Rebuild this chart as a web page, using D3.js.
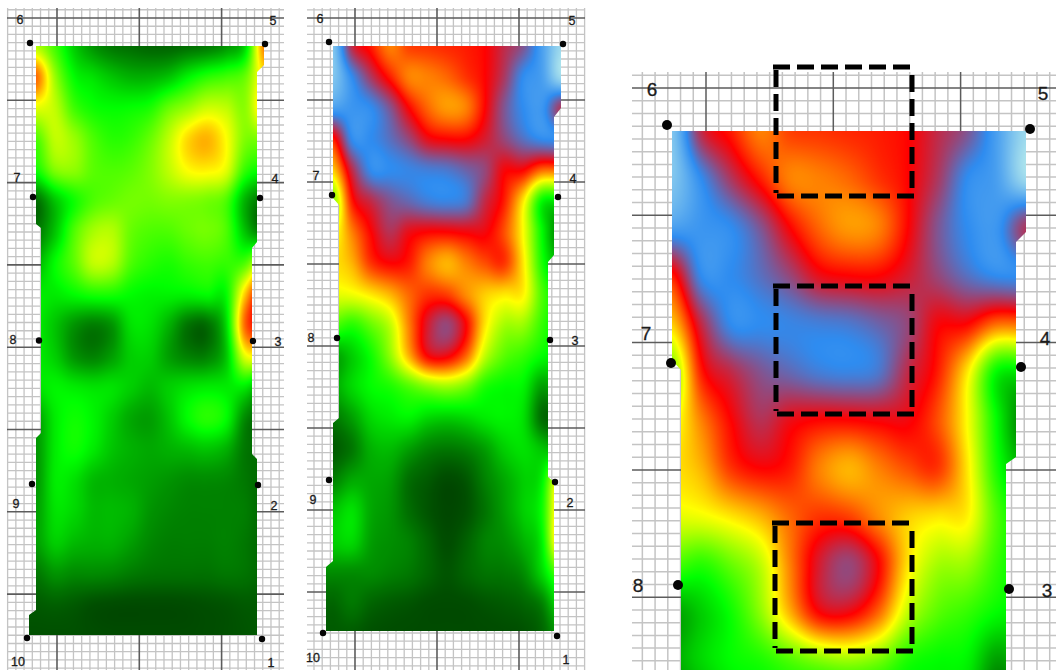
<!DOCTYPE html>
<html><head><meta charset="utf-8">
<script src="https://cdn.jsdelivr.net/npm/d3@7/dist/d3.min.js"></script>
<style>html,body{margin:0;padding:0;background:#fff}svg{display:block}text{font-family:"Liberation Sans",Arial,sans-serif;fill:#1c1c1c;stroke:#1c1c1c;stroke-width:.3px}</style>
</head><body><svg id="c" width="1056" height="670"></svg>
<script>
// Sensor point labels, in reading order left/right from the top
const sensorLabels=["6","5","7","4","8","3","9","2","10","1"];
// Heat levels: 0 dark green, 1 green, 2 yellow, 3 red, 4 blue, 5 pale cyan
const colorLevels=[0,1,2,3,4,5];
const colorStops=["#003d00","#00ff00","#ffff00","#ff0000","#2e8cf0","#b8ecec"];
// Sampling columns and rows on the first panel's sheet
const sampleCols=[0,1,2,3,4,5,6,7,8,9,10,11,12];
const sampleRows=[0,1,2,3,4,5,6,7,8,9,10,11,12,13,14,15,16,17,18,19];
const heatLeft=[
[1.7,1.25,.75,.45,.3,.25,.2,.2,.25,.3,.45,.8,2.5],
[2.6,1.6,1,.85,.7,.6,.6,.7,.95,1.15,1.25,1.4,2.1],
[1.9,1.75,1.25,1.05,1,1.02,1.1,1.4,1.6,1.8,1.75,1.55,2.2],
[1.3,1.75,1.6,1.3,1.15,1.2,1.4,1.75,2.15,2.3,2,1.5,1.5],
[1.05,1.5,1.55,1.35,1.3,1.35,1.5,1.75,2,2.05,1.9,1.2,1],
[.25,.7,1.05,1.3,1.4,1.45,1.45,1.5,1.5,1.45,1.3,.6,.25],
[.3,.7,1.3,1.65,1.7,1.4,1.3,1.3,1.4,1.45,1.3,.7,.3],
[.6,1,1.35,1.75,1.7,1.3,1.15,1.1,1.2,1.25,1.2,1.3,2],
[.9,.9,1,1.1,1.1,1,.95,.95,.95,1,1,2.2,3.2],
[.9,.7,.45,.33,.45,.85,.85,.6,.28,.25,.8,2.6,3],
[.9,.75,.45,.35,.5,.75,.75,.5,.35,.35,.7,1.9,2],
[.85,.95,.9,.85,.85,.75,.65,.75,.85,.9,.9,.9,.5],
[.5,.9,1.05,.95,.75,.55,.5,.7,1,1.15,1,.4,.2],
[.45,.9,1.05,.9,.7,.6,.55,.6,.65,.7,.6,.3,.25],
[.45,.9,.85,.65,.6,.55,.5,.45,.4,.4,.38,.3,.2],
[.5,.85,.8,.65,.65,.6,.45,.38,.35,.35,.35,.33,.2],
[.5,.75,.65,.6,.6,.5,.38,.33,.33,.33,.35,.3,.2],
[.3,.45,.4,.4,.38,.32,.28,.27,.27,.27,.3,.28,.2],
[.15,.18,.15,.1,.08,.07,.07,.07,.08,.1,.12,.15,.15],
[.1,.1,.1,.08,.07,.07,.07,.07,.07,.08,.1,.12,.15]];
const heatRight=[
[4.6,3.3,2.9,2.5,2.75,2.8,2.85,2.9,3,3.3,3.6,4.2,4.8],
[4.6,4,3.4,2.9,2.5,2.5,2.6,2.8,3,3.4,4,4.2,4.8],
[4.2,4.1,4,3.6,3,2.6,2.4,2.5,3,3.6,4,4.1,3.4],
[2.9,4,4,3.8,3.5,3.1,3,3,3.2,3.5,3.8,4,4],
[2.2,3.3,4,4,3.95,3.9,3.85,3.7,3.5,3.05,3,2.6,2.6],
[1.5,2.9,3.3,3.6,3.75,3.9,3.95,3.85,3.3,2.9,2.1,1,.9],
[1.9,2.5,3,3.35,3.1,3,3,3.05,3.05,2.7,2,1,.3],
[2.1,2.3,2.8,3,2.9,2.5,2.3,2.5,2.7,2.8,2.1,1.1,.6],
[1.9,1.95,2.1,2.3,2.6,2.8,2.75,2.45,2.2,2.1,2.05,1.3,.9],
[1.3,1.15,1.4,1.75,2.5,3.2,3.5,3,2.1,1.65,1.6,1.2,.9],
[.5,.75,1.05,1.55,2.3,3,3.05,2.6,1.75,1.35,1.2,1,.9],
[.55,.8,1,1.1,1.3,1.5,1.6,1.45,1.1,1,.95,.5,.7],
[.3,.5,.8,.9,.95,.8,.75,.8,.9,.95,.85,.25,.25],
[.15,.3,.6,.65,.5,.35,.3,.35,.5,.75,.85,.7,.6],
[.35,.55,.55,.5,.25,.15,.07,.13,.35,.55,.75,.95,2.2],
[.7,.85,.55,.45,.25,.12,.05,.1,.28,.5,.75,1.05,2.4],
[.75,.8,.5,.42,.35,.2,.08,.18,.35,.42,.6,.95,2.4],
[.4,.4,.4,.35,.3,.2,.12,.2,.28,.3,.4,.8,1.4],
[.2,.3,.2,.15,.12,.08,.07,.08,.12,.15,.2,.35,.9],
[.15,.15,.1,.08,.07,.07,.07,.07,.07,.08,.1,.2,.5]];

// ---- layout ----
const panels=[
 {heat:heatLeft,sheet:[7,8,284,670],majorX:57,majorY:18,step:82.3,
  x:[36,264],y:[46,635],fs:12.5,r:3.2,
  outline:[[36,46],[264,46],[264,65],[257,72],[257,242],[252,248],[252,454],[257,459],[257,635],[29,635],[29,615],[36,610],[36,438],[41,433],[41,228],[36,224]],
  dots:[[30,43],[265,44],[33,197],[260,198],[39,340.5],[253,341],[32,484],[258,485],[27,638],[262,639]],
  labels:[[20,20],[273,21],[17,178],[275,179],[13,340],[278,342],[16,504],[274,506],[18,662],[271,663]]},
 {heat:heatRight,sheet:[307,8,585,670],majorX:355,majorY:18,step:82,
  x:[333,561],y:[46,635],fs:12.5,r:3.2,
  outline:[[333,46],[561,46],[561,108],[554,117],[554,255],[548,262],[548,477],[554,482],[554,631],[326,631],[326,567],[333,561],[333,423],[339,418],[339,205],[333,198]],
  dots:[[329,42],[563,44],[332,195],[558,197],[337,338],[550,340],[329,480],[555,482],[323,633],[557,636]],
  labels:[[320,19],[572,21],[316,176],[573,179],[311,338],[575,341],[313,500],[570,503],[313,658],[566,660]]},
 {heat:heatRight,sheet:[632,72,1056,670],majorX:706,majorY:88,step:127.3,
  x:[672,1026],y:[131,1045.7],fs:19,r:5,
  outline:[[672,131],[1026,131],[1026,232],[1016,242],[1016,457],[1006,464],[1006,680],[681,680],[681,370],[672,360]],
  dots:[[667,125],[1030,129],[671,363],[1021,367],[678,585],[1009,589]],
  labels:[[652,89],[1043,93],[646,333],[1045,338],[638,585],[1047,590]],
  boxes:[[776,67,912,196],[776,286,912,414],[775,523,912,651]]}
];

const svg=d3.select("#c");
const defs=svg.append("defs");
defs.append("filter").attr("id","soft").attr("x","-1%").attr("y","-1%").attr("width","102%").attr("height","102%")
  .append("feGaussianBlur").attr("stdDeviation",0.45);

const color=d3.scaleLinear().domain(colorLevels).range(colorStops).clamp(true);
const lut=d3.range(1001).map(i=>{const c=d3.rgb(color(i/200));return [c.r,c.g,c.b];});

function cr(a,b,c,d,t){return b+0.5*t*(c-a+t*(2*a-5*b+4*c-d+t*(3*(b-c)+d-a)));}
function sample(m,u,v){
  const nc=sampleCols.length,nr=sampleRows.length;
  u=Math.max(0,Math.min(nc-1,u));v=Math.max(0,Math.min(nr-1,v));
  const i=Math.min(nc-2,Math.floor(u)),j=Math.min(nr-2,Math.floor(v)),tu=u-i,tv=v-j;
  const cl=(a,lo,hi)=>Math.max(lo,Math.min(hi,a));
  const row=r=>{const R=m[cl(r,0,nr-1)];return cr(R[cl(i-1,0,nc-1)],R[i],R[i+1],R[cl(i+2,0,nc-1)],tu);};
  return cr(row(j-1),row(j),row(j+1),row(j+2),tv);
}

panels.forEach((p,idx)=>{
  const g=svg.append("g");
  const [sx0,sy0,sx1,sy1]=p.sheet;
  const minor=p.step/10;
  const gx=d3.scaleLinear().domain([0,1]).range([p.majorX,p.majorX+minor]);
  const gy=d3.scaleLinear().domain([0,1]).range([p.majorY,p.majorY+minor]);
  const kx=d3.range(Math.ceil(gx.invert(sx0)),Math.floor(gx.invert(sx1))+1);
  const ky=d3.range(Math.ceil(gy.invert(sy0)),Math.floor(gy.invert(sy1))+1);
  const paper=g.append("g").attr("filter","url(#soft)");
  const isMajor=k=>((k%10)+10)%10===0;
  const draw=(sel)=>sel.attr("stroke",d=>isMajor(d)?"#5c5c5c":"#c4c4c4")
      .attr("stroke-width",d=>isMajor(d)?(idx==2?1.5:1.6):(idx==2?1.5:1.3));
  paper.selectAll(".v").data(kx).join("line").attr("class","v")
    .attr("x1",d=>gx(d)).attr("x2",d=>gx(d)).attr("y1",sy0).attr("y2",sy1).call(draw);
  paper.selectAll(".h").data(ky).join("line").attr("class","h")
    .attr("x1",sx0).attr("x2",sx1).attr("y1",d=>gy(d)).attr("y2",d=>gy(d)).call(draw);
  // raise majors over the other direction's minor lines
  paper.selectAll("line").filter(d=>isMajor(d)).raise();

  // heat surface
  const xs=d3.scaleLinear().domain([0,sampleCols.length-1]).range(p.x);
  const ys=d3.scaleLinear().domain([0,sampleRows.length-1]).range(p.y);
  const ox=d3.extent(p.outline,d=>d[0]),oy=d3.extent(p.outline,d=>d[1]);
  const w=ox[1]-ox[0],h=Math.min(oy[1],670)-oy[0];
  const cv=document.createElement("canvas");cv.width=w;cv.height=h;
  const ctx=cv.getContext("2d"),im=ctx.createImageData(w,h);
  for(let y=0;y<h;y++)for(let x=0;x<w;x++){
    const val=sample(p.heat,xs.invert(ox[0]+x+.5),ys.invert(oy[0]+y+.5));
    const c=lut[Math.max(0,Math.min(1000,Math.round(val*200)))];
    const o=(y*w+x)*4;im.data[o]=c[0];im.data[o+1]=c[1];im.data[o+2]=c[2];im.data[o+3]=255;
  }
  ctx.putImageData(im,0,0);
  const cid="clip"+idx;
  defs.append("clipPath").attr("id",cid).append("polygon").attr("points",p.outline.map(d=>d.join(",")).join(" "));
  g.append("image").attr("href",cv.toDataURL()).attr("x",ox[0]).attr("y",oy[0]).attr("width",w).attr("height",h).attr("clip-path",`url(#${cid})`);

  // sensors
  g.selectAll("circle").data(p.dots).join("circle").attr("cx",d=>d[0]).attr("cy",d=>d[1]).attr("r",p.r).attr("fill","#050505");
  g.selectAll("text").data(p.labels).join("text").attr("x",d=>d[0]).attr("y",d=>d[1])
    .attr("text-anchor","middle").attr("dominant-baseline","central").attr("font-size",p.fs)
    .text((d,i)=>sensorLabels[i]);

  // dashed regions
  if(p.boxes){
    const b=g.append("g").attr("fill","none").attr("stroke","#000").attr("stroke-width",5).attr("stroke-dasharray","17,7");
    p.boxes.forEach(([x0,y0,x1,y1])=>{
      [[x0-3,y0,x1+1,y0],[x0,y0+3,x0,y1-3],[x1,y0+8,x1,y1-3],[x0+1,y1,x1+3,y1]].forEach(s=>{
        b.append("line").attr("x1",s[0]).attr("y1",s[1]).attr("x2",s[2]).attr("y2",s[3]);
      });
    });
  }
});
</script></body></html>
